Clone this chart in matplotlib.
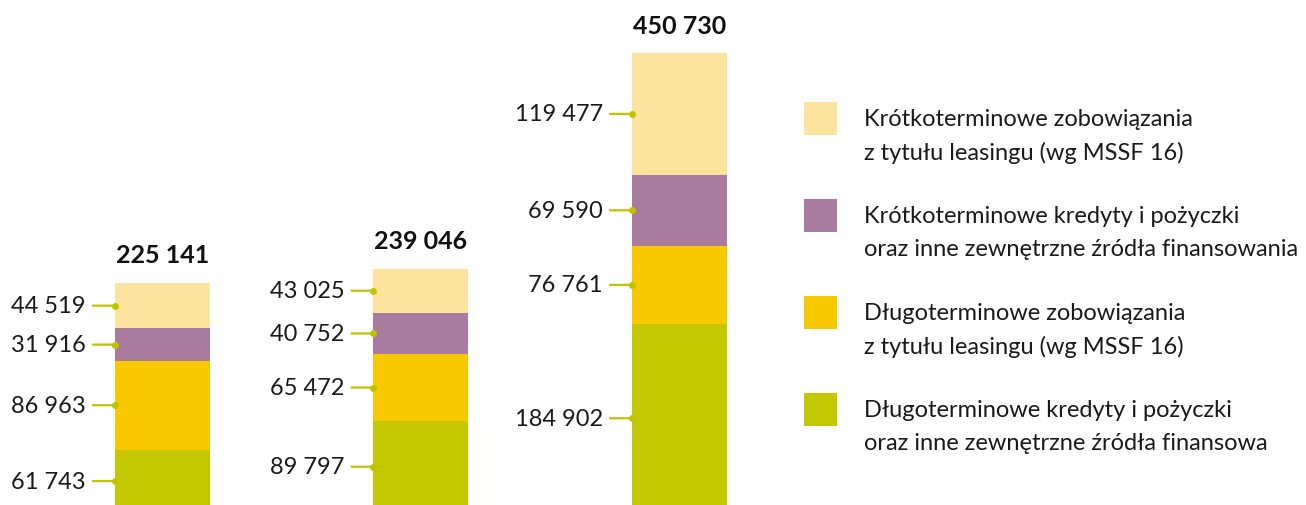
import numpy as np
import matplotlib.pyplot as plt
from matplotlib.patches import Rectangle

plt.rcParams['font.family'] = ['Lato', 'DejaVu Sans']

# data (bottom to top of each stack)
series_names = [
    'Długoterminowe kredyty i pożyczki\noraz inne zewnętrzne źródła finansowa',
    'Długoterminowe zobowiązania\nz tytułu leasingu (wg MSSF 16)',
    'Krótkoterminowe kredyty i pożyczki\noraz inne zewnętrzne źródła finansowania',
    'Krótkoterminowe zobowiązania\nz tytułu leasingu (wg MSSF 16)',
]
long_loans = [61743, 89797, 184902]
long_leasing = [86963, 65472, 76761]
short_loans = [31916, 40752, 69590]
short_leasing = [44519, 43025, 119477]
totals = [225141, 239046, 450730]

colors = ['#c3c800', '#f9c900', '#a97c9f', '#fde49e']
line_color = '#c0c400'


def fmt(v):
    return f'{v:,}'.replace(',', ' ')


W, H = 1306, 506
fig = plt.figure(figsize=(W / 100, H / 100), dpi=100)

# main axes: y=0 sits a little below the bottom edge of the picture
ax = fig.add_axes([0, -7.5 / H, 1, 513.5 / H])
ax.set_xlim(-0.6286, 4.4236)
ax.set_ylim(0, 503700)
ax.axis('off')

x = np.arange(3)
width = 0.3675
stacks = [long_loans, long_leasing, short_loans, short_leasing]
bottom = np.zeros(3)
for vals, col in zip(stacks, colors):
    vals = np.array(vals)
    ax.bar(x, vals, width, bottom=bottom, color=col, linewidth=0)
    for i in range(3):
        mid = bottom[i] + vals[i] / 2
        left = x[i] - width / 2
        ax.annotate('', xy=(left, mid), xytext=(-22, 0), textcoords='offset pixels',
                    arrowprops=dict(arrowstyle='-', color=line_color, lw=1.6,
                                    shrinkA=0, shrinkB=0))
        ax.plot(left, mid, 'o', color=line_color, ms=4, zorder=3)
        ax.annotate(fmt(int(vals[i])), xy=(left, mid), xytext=(-29, 0),
                    textcoords='offset pixels', ha='right', va='center',
                    fontsize=17, color='#1a1a1a')
    bottom += vals

for i, t in enumerate(totals):
    ax.annotate(fmt(t), xy=(x[i], bottom[i]), xytext=(0, 28), textcoords='offset pixels',
                ha='center', va='center', fontsize=18, fontweight='bold', color='#111111')

# legend drawn in pixel space
lax = fig.add_axes([0, 0, 1, 1])
lax.set_xlim(0, W)
lax.set_ylim(H, 0)
lax.axis('off')
legend_order = [3, 2, 1, 0]
for k, idx in enumerate(legend_order):
    top = 103 + k * 97
    lax.add_patch(Rectangle((804, top), 33, 33, color=colors[idx], linewidth=0))
    for j, line in enumerate(series_names[idx].split('\n')):
        lax.text(864, top + 16.5 + j * 33, line, ha='left', va='center',
                 fontsize=17, color='#1a1a1a')

fig.savefig('out.png', dpi=100)
